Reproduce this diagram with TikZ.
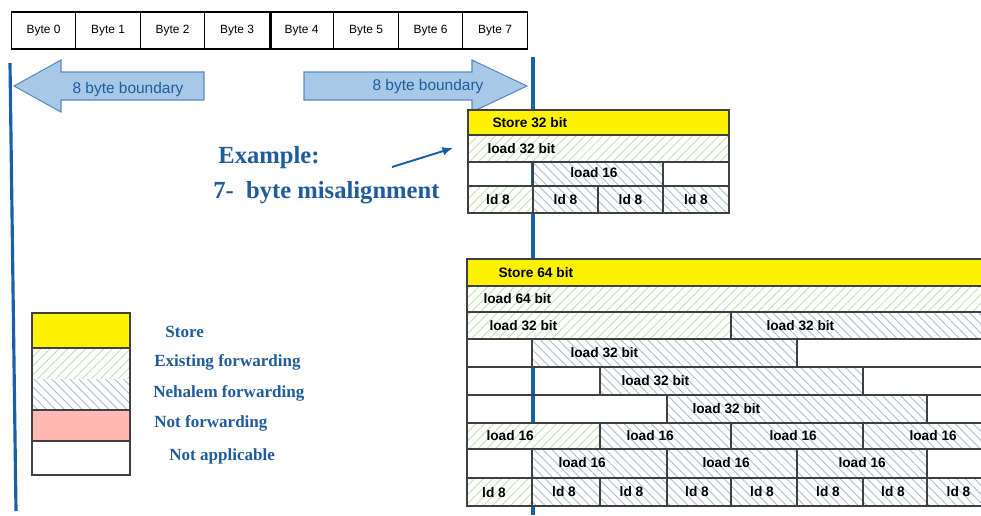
\documentclass[tikz,border=0pt]{standalone}
\usepackage{fontspec}
\setmainfont{Liberation Serif}
\setsansfont{Liberation Sans}
\usetikzlibrary{patterns.meta,arrows.meta}
\definecolor{linkblue}{HTML}{1A5FAA}
\definecolor{textblue}{HTML}{1F5C9C}
\definecolor{arrowfill}{HTML}{A8C8E8}
\definecolor{arrowedge}{HTML}{5A8AC4}
\definecolor{oldhatch}{HTML}{C4E2AE}
\definecolor{newhatch}{HTML}{A8C0D6}
\definecolor{nofwd}{HTML}{FFB9B2}

\begin{document}
\begin{tikzpicture}[x=0.02cm,y=-0.02cm,
  bytebox/.style={draw,line width=0.6pt,minimum width=1.29cm,minimum height=0.74cm,inner sep=0pt,font=\sffamily\fontsize{6.8}{8}\selectfont},
  cell/.style={draw=black!75,line width=0.6pt},
  store/.style={cell,fill=yellow},
  oldfwd/.style={cell,preaction={fill=white},pattern={Lines[angle=45,distance=3.6pt,line width=0.5pt]},pattern color=oldhatch},
  newfwd/.style={cell,preaction={fill=white},pattern={Lines[angle=-45,distance=3.6pt,line width=0.5pt]},pattern color=newhatch},
  lbl/.style={font=\sffamily\bfseries\fontsize{7.8}{9}\selectfont,inner sep=0pt},
  key/.style={anchor=west,inner sep=0pt,text=textblue,font=\bfseries\fontsize{9.7}{11}\selectfont},
  bigkey/.style={key,font=\bfseries\fontsize{14}{16}\selectfont},
  bound/.style={draw=arrowedge,fill=arrowfill,line width=0.6pt},
  boundtext/.style={text=textblue,inner sep=0pt,font=\sffamily\fontsize{8.8}{10}\selectfont}]
\useasboundingbox (0,0) rectangle (981,515);

\foreach \i in {0,...,7}
  \node [bytebox] (byte\i) at ({43.65+64.5*\i},30.5) {Byte \i};
\draw [line width=0.6pt] ([xshift=1.2pt]byte4.north west) -- ([xshift=1.2pt]byte4.south west);

\draw [linkblue,line width=1.8pt] (10,63) -- (16,511);
\draw [linkblue,line width=1.8pt] (533,57) -- (533,515);

\draw [bound] (14,86) -- (61,60) -- (61,72) -- (204,72) -- (204,100) -- (61,100) -- (61,112) -- cycle;
\node [boundtext] (leftbound) at (128,89) {8 byte boundary};
\draw [bound] (527,86) -- (472,60) -- (472,72) -- (304,72) -- (304,100) -- (472,100) -- (472,112) -- cycle;
\node [boundtext] (rightbound) at (428,86) {8 byte boundary};

\node [bigkey] (example) at (218,158) {Example:};
\node [bigkey] (misalign) at (213,193) {7-\ \ byte misalignment};
\coordinate (hint) at (392,167);
\coordinate (hintend) at (453,148);
\draw [linkblue,line width=1.1pt,-{Latex[length=6pt,width=5pt]}] (hint) -- (hintend);

\draw [store] (468,110) rectangle (729,135) node [lbl,anchor=west] (store32) at (492,123) {Store 32 bit};
\draw [oldfwd] (468,135) rectangle (729,162) node [lbl,anchor=west] (dword) at (487,149) {load 32 bit};
\draw [cell] (468,162) rectangle (533,186);
\draw [newfwd] (533,162) rectangle (663,186) node [lbl] (word) at (594,173) {load 16};
\draw [cell] (663,162) rectangle (729,186);
\draw [oldfwd] (468,186) rectangle (533,213) node [lbl] (byteld) at (498,200) {ld 8};
\foreach \a/\b [count=\k] in {533/598,598/663,663/729}
  \draw [newfwd] (\a,186) rectangle (\b,213) node [lbl] (byteld\k) at ({(\a+\b)/2},200) {ld 8};

\draw [store] (467,259) rectangle (994,286) node [lbl,anchor=west] (store64) at (498,273) {Store 64 bit};
\draw [oldfwd] (467,286) rectangle (994,312) node [lbl,anchor=west] (qword) at (483,299) {load 64 bit};
\draw [oldfwd] (467,312) rectangle (731,339) node [lbl,anchor=west] (dwordA) at (489,326) {load 32 bit};
\draw [newfwd] (731,312) rectangle (994,339) node [lbl,anchor=west] (dwordB) at (766,326) {load 32 bit};
\draw [cell] (467,339) rectangle (532,367);
\draw [newfwd] (532,339) rectangle (797,367) node [lbl,anchor=west] (dwordC) at (570,353) {load 32 bit};
\draw [cell] (797,339) rectangle (994,367);
\draw [cell] (467,367) rectangle (600,395);
\draw [newfwd] (600,367) rectangle (863,395) node [lbl,anchor=west] (dwordD) at (621,381) {load 32 bit};
\draw [cell] (863,367) rectangle (994,395);
\draw [cell] (467,395) rectangle (667,423);
\draw [newfwd] (667,395) rectangle (927,423) node [lbl,anchor=west] (dwordE) at (692,409) {load 32 bit};
\draw [cell] (927,395) rectangle (994,423);
\draw [oldfwd] (467,423) rectangle (600,449) node [lbl,anchor=west] (wordA) at (486,436) {load 16};
\foreach \a/\b/\t [count=\k] in {600/731/626,731/863/769,863/994/909}
  \draw [newfwd] (\a,423) rectangle (\b,449) node [lbl,anchor=west] (wordB\k) at (\t,436) {load 16};
\draw [cell] (467,449) rectangle (532,478);
\foreach \a/\b/\t [count=\k] in {532/667/558,667/797/702,797/927/838}
  \draw [newfwd] (\a,449) rectangle (\b,478) node [lbl,anchor=west] (wordC\k) at (\t,463) {load 16};
\draw [cell] (927,449) rectangle (994,478);
\draw [oldfwd] (467,478) rectangle (532,506) node [lbl] (byteldA) at (494,493) {ld 8};
\foreach \a/\b [count=\k] in {532/600,600/667,667/731,731/797,797/863,863/927,927/994}
  \draw [newfwd] (\a,478) rectangle (\b,506) node [lbl] (byteldB\k) at ({(\a+\b)/2-2},492) {ld 8};

\fill [yellow] (32,313) rectangle (130,348);
\path [oldfwd,draw=none] (32,348) rectangle (130,379);
\path [newfwd,draw=none] (32,379) rectangle (130,410);
\fill [nofwd] (32,410) rectangle (130,441);
\draw [black!75,line width=0.6pt] (32,313) rectangle (130,475)
  (32,348) -- (130,348) (32,410) -- (130,410) (32,441) -- (130,441);
\node [key] (kstore) at (165,332) {Store};
\node [key] (kold) at (154,362) {Existing forwarding};
\node [key] (knew) at (153,393) {Nehalem forwarding};
\node [key] (knone) at (154,423) {Not forwarding};
\node [key] (kna) at (169,456) {Not applicable};
\end{tikzpicture}
\end{document}
